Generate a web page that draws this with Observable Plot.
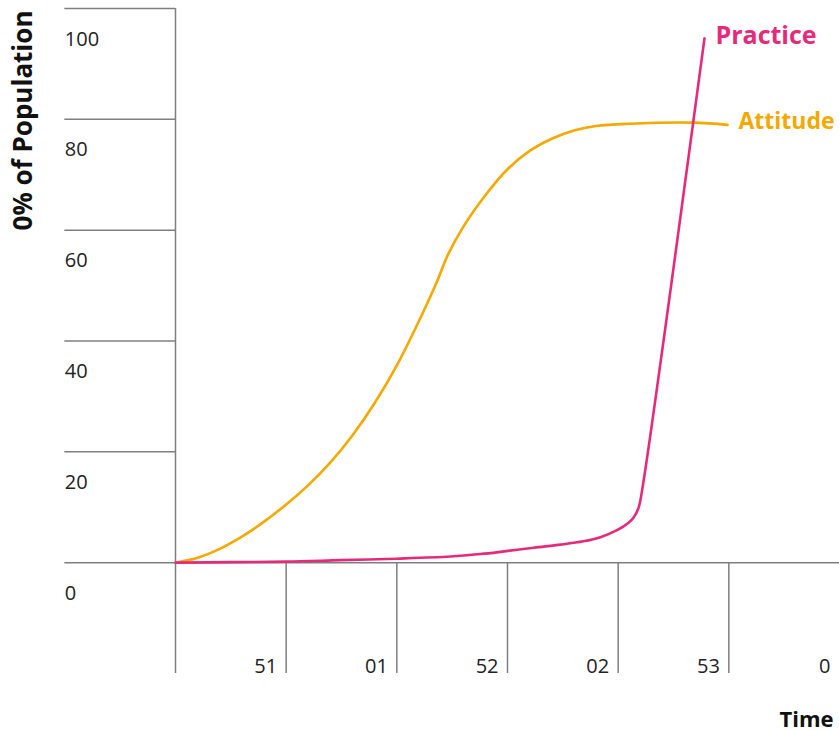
<!DOCTYPE html>
<html>
<head>
<meta charset="utf-8">
<script src="https://cdn.jsdelivr.net/npm/d3@7"></script>
<script src="https://cdn.jsdelivr.net/npm/@observablehq/plot@0.6"></script>
<style>
  html, body { margin: 0; padding: 0; background: #fff; }
  svg { display: block; }
</style>
</head>
<body>
<div id="chart"></div>
<script>
// Time values and % of population
const attitudeTime  = [0, 1.0, 2.0, 3.0, 4.0, 5.0, 6.0, 7.0, 8.0, 9.0, 10.0, 11.0, 11.8, 12.3, 13.0, 14.0, 15.0, 16.0, 17.0, 18.0, 19.0, 20.5, 23.4, 24.94];
const attitudeValue = [0, 0.9, 2.5, 4.7, 7.4, 10.5, 14.0, 18.1, 23.0, 28.8, 35.6, 43.6, 50.6, 55.5, 60.6, 66.3, 71.0, 74.3, 76.5, 78.0, 78.8, 79.2, 79.4, 79.0];

const practiceTime  = [0, 2.49, 5.02, 7.45, 9.99, 12.42, 13.78, 14.68, 16.18, 17.40, 18.43, 19.20, 19.97, 20.47, 20.69, 20.92, 21.10, 23.90];
const practiceValue = [0, 0.09, 0.18, 0.45, 0.72, 1.10, 1.55, 1.95, 2.70, 3.25, 3.85, 4.60, 5.90, 7.20, 8.10, 9.90, 13.54, 94.6];

const yTicks = [0, 20, 40, 60, 80, 100];
const yTickLabels = ["0", "20", "40", "60", "80", "100"];
const xTicks = [5, 10, 15, 20, 25, 30];
const xTickLabels = ["51", "01", "52", "02", "53", "0"];

const seriesNames = ["Practice", "Attitude"];
const seriesColors = ["#E62A7B", "#F5A800"];
const yTitle = "0% of Population";
const xTitle = "Time";

const attitude = attitudeTime.map((t, i) => ({t, v: attitudeValue[i]}));
const practice = practiceTime.map((t, i) => ({t, v: practiceValue[i]}));
const yT = yTicks.map((v, i) => ({v, label: yTickLabels[i]}));
const xT = xTicks.map((t, i) => ({t, label: xTickLabels[i]}));

const grid = "#7f7f7f";
const bold = "'Open Sans', sans-serif";

const chart = Plot.plot({
  width: 839,
  height: 731,
  marginLeft: 175,
  marginRight: 0,
  marginTop: 8,
  marginBottom: 58,
  style: {fontFamily: "'Open Sans', sans-serif", background: "#fff", overflow: "visible"},
  x: {domain: [0, 30], axis: null},
  y: {domain: [-20, 100], axis: null},
  color: {domain: seriesNames, range: seriesColors},
  marks: [
    // y tick cells
    Plot.ruleY(yTicks.filter(d => d > 0), {x1: -5, x2: 0, stroke: grid, strokeWidth: 1.5}),
    Plot.ruleY([0], {x1: -5, x2: 30, stroke: grid, strokeWidth: 1.5}),
    Plot.ruleX([0], {y1: -20, y2: 100, stroke: grid, strokeWidth: 1.5}),
    Plot.ruleX(xTicks.filter(d => d < 30), {y1: -20, y2: 0, stroke: grid, strokeWidth: 1.5}),
    Plot.text(yT, {x: -5, y: "v", text: "label", textAnchor: "start", lineAnchor: "bottom", dy: 37, fontSize: 20, fill: "#222"}),
    Plot.text(xT, {x: "t", y: -20, text: "label", textAnchor: "end", lineAnchor: "bottom", dx: -9, dy: -1, fontSize: 20, fill: "#222"}),
    // curves
    Plot.line(attitude, {x: "t", y: "v", stroke: seriesColors[1], strokeWidth: 2.6, curve: "catmull-rom"}),
    Plot.line(practice, {x: "t", y: "v", stroke: seriesColors[0], strokeWidth: 2.6, curve: "catmull-rom"}),
    // series labels
    Plot.text([practice[practice.length - 1]], {x: "t", y: "v", text: () => seriesNames[0], fill: seriesColors[0], textAnchor: "start", lineAnchor: "middle", dx: 11, dy: -2, fontSize: 25, fontWeight: "bold", fontFamily: bold}),
    Plot.text([attitude[attitude.length - 1]], {x: "t", y: "v", text: () => seriesNames[1], fill: seriesColors[1], textAnchor: "start", lineAnchor: "middle", dx: 11, dy: -3, fontSize: 23, fontWeight: "bold", fontFamily: bold}),
    // axis titles
    Plot.text([yTitle], {frameAnchor: "top-left", rotate: -90, textAnchor: "end", lineAnchor: "bottom", dx: -144, dy: 2, fontSize: 26, fontWeight: "bold", fontFamily: bold, fill: "#111"}),
    Plot.text([xTitle], {frameAnchor: "bottom-right", textAnchor: "end", lineAnchor: "bottom", dx: -6, dy: 53, fontSize: 22, fontWeight: "bold", fontFamily: bold, fill: "#111"})
  ]
});

document.getElementById("chart").appendChild(chart);
</script>
</body>
</html>
